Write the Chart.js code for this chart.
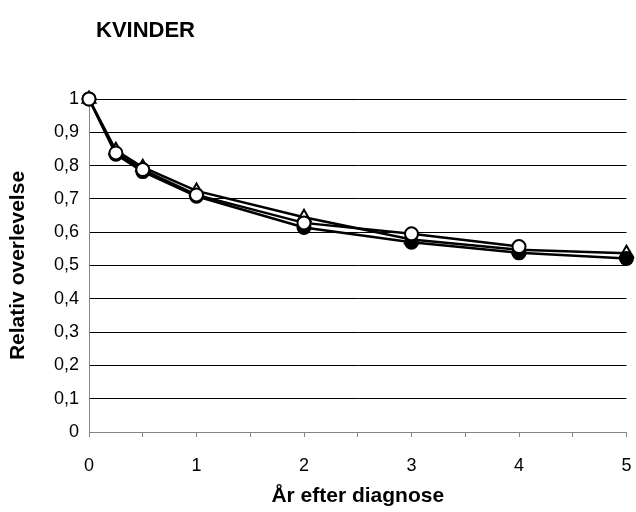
<!DOCTYPE html>
<html>
<head>
<meta charset="utf-8">
<script src="https://cdn.jsdelivr.net/npm/chart.js@4"></script>
<style>
  html, body { margin: 0; padding: 0; background: #fff; }
  #wrap { width: 636px; height: 512px; position: relative; }
</style>
</head>
<body>
<div id="wrap"><canvas id="survivalChart" width="636" height="512"></canvas></div>
<script>
// years after diagnosis
const years = [0, 0.25, 0.5, 1, 2, 3, 4, 5];
// relative survival, three series
const filledCircle = [1, 0.834, 0.782, 0.708, 0.614, 0.57, 0.538, 0.521];
const openCircle = [1, 0.838, 0.788, 0.712, 0.628, 0.595, 0.557, null];
const openTriangle = [1, 0.846, 0.795, 0.724, 0.645, 0.578, 0.547, 0.537];
const yTicks = [0, 0.1, 0.2, 0.3, 0.4, 0.5, 0.6, 0.7, 0.8, 0.9, 1];
const xTicks = [0, 1, 2, 3, 4, 5];

const chartTitle = 'KVINDER';
const xTitle = 'År efter diagnose';
const yTitle = 'Relativ overlevelse';

function toPoints(values) {
    return years.map((x, i) => ({ x: x, y: values[i] }));
}

const fontFamily = '"Liberation Sans", Arial, sans-serif';

// title sits left, not centred, so draw it ourselves
const leftTitle = {
    id: 'leftTitle',
    afterDraw(chart) {
        const ctx = chart.ctx;
        ctx.save();
        ctx.font = 'bold 22px ' + fontFamily;
        ctx.fillStyle = '#000';
        ctx.textBaseline = 'alphabetic';
        ctx.fillText(chartTitle, 96, 37);
        ctx.restore();
    }
};

function lineSet(label, values, style, fill) {
    return {
        label: label,
        data: toPoints(values),
        borderColor: '#000',
        borderWidth: 2.5,
        pointStyle: style,
        pointRadius: style === 'triangle' ? 7.5 : 6.5,
        pointBorderWidth: 2,
        pointBorderColor: '#000',
        pointBackgroundColor: fill,
        tension: 0,
        clip: false,
        spanGaps: false
    };
}

new Chart(document.getElementById('survivalChart').getContext('2d'), {
    type: 'line',
    data: {
        datasets: [
            lineSet('open circle', openCircle, 'circle', '#fff'),
            lineSet('filled circle', filledCircle, 'circle', '#000'),
            lineSet('triangle', openTriangle, 'triangle', '#fff')
        ]
    },
    options: {
        responsive: false,
        animation: false,
        layout: { padding: { top: 99, right: 8, left: 0, bottom: 0 } },
        plugins: {
            legend: { display: false },
            tooltip: { enabled: false }
        },
        scales: {
            x: {
                type: 'linear',
                min: 0,
                max: 5,
                afterFit: scale => {
                    scale.height = 80;
                    scale.paddingLeft = 0;
                    scale.paddingRight = 0;
                },
                afterBuildTicks: scale => {
                    const t = [];
                    for (let v = 0; v <= 5; v += 0.5) t.push({ value: v });
                    scale.ticks = t;
                },
                border: { color: '#858585', width: 1 },
                grid: {
                    drawOnChartArea: false,
                    drawTicks: true,
                    tickLength: 5,
                    color: '#858585'
                },
                ticks: {
                    autoSkip: false,
                    maxRotation: 0,
                    padding: 18,
                    color: '#000',
                    font: { family: fontFamily, size: 18 },
                    callback: v => xTicks.includes(v) ? String(v) : ''
                },
                title: {
                    display: true,
                    text: xTitle,
                    color: '#000',
                    font: { family: fontFamily, size: 21, weight: 'bold' },
                    padding: { top: 6, bottom: 3 }
                }
            },
            y: {
                min: 0,
                max: 1,
                afterFit: scale => { scale.width = 89; },
                afterBuildTicks: scale => {
                    scale.ticks = yTicks.map(v => ({ value: v }));
                },
                border: { color: '#858585', width: 1 },
                grid: {
                    color: '#000',
                    lineWidth: 1,
                    drawTicks: false
                },
                ticks: {
                    padding: 10,
                    color: '#000',
                    font: { family: fontFamily, size: 18 },
                    callback: v => String(Math.round(v * 10) / 10).replace('.', ',')
                },
                title: {
                    display: true,
                    text: yTitle,
                    color: '#000',
                    font: { family: fontFamily, size: 21, weight: 'bold' },
                    padding: { top: 6, bottom: 0 }
                }
            }
        }
    },
    plugins: [leftTitle]
});
</script>
</body>
</html>
